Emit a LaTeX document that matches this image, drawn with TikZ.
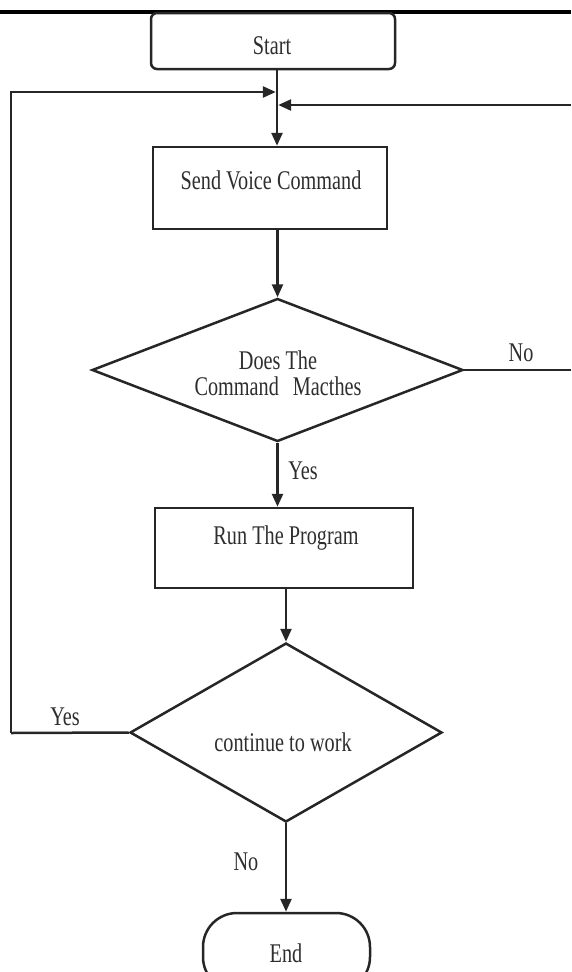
\documentclass[tikz,border=0pt]{standalone}
\usepackage{fontspec}
\newfontfamily\flowfont[FakeStretch=0.75]{Liberation Serif}
\usetikzlibrary{arrows.meta,shapes.geometric}
\begin{document}
\begin{tikzpicture}[x=1pt,y=-1pt,
  line/.style={draw=black!85, line width=2.5pt},
  arr/.style={line, -{Triangle[length=13pt,width=11pt]}},
  box/.style={draw=black!85, line width=2.5pt, rectangle, inner sep=0pt},
  dia/.style={draw=black!85, line width=2.5pt, diamond, inner sep=0pt},
  txt/.style={font=\flowfont\fontsize{27}{28}\selectfont, text=black!82, inner sep=0pt, align=center},
]
\useasboundingbox (0,0) rectangle (571,972);
\draw[line width=4pt, black] (0,12) -- (571,12);

% shapes
\node[box, rounded corners=6pt, minimum width=244pt, minimum height=56pt] (start) at (273,41) {};
\node[txt] (startt) at (272,46) {Start};

\node[box, minimum width=234pt, minimum height=82pt] (send) at (270,188) {};
\node[txt] (sendt) at (271,180) {Send Voice Command};

\node[dia, minimum width=371pt, minimum height=143pt] (d1) at (277.5,370) {};
\node[txt] (d1t) at (278,373) {Does The\\[-2pt]Command\hspace{14pt}Macthes};

\node[box, minimum width=258pt, minimum height=80pt] (run) at (284,548) {};
\node[txt] (runt) at (286,538) {Run The Program};

\node[dia, minimum width=312pt, minimum height=179pt] (d2) at (286,732.5) {};
\node[txt] (d2t) at (283,742) {continue to work};

\node[box, rounded corners=34pt, minimum width=167pt, minimum height=78pt] (end) at (286.5,952) {};
\node[txt] (endt) at (286,953) {End};

% junction points and free ends
\coordinate (jL) at (277,92);
\coordinate (jR) at (277,105);
\coordinate (lc) at (11,733);
\coordinate (rA) at (571,370);
\coordinate (rB) at (571,105);

% connectors
\draw[arr] (start.south -| jL) -- (send.north -| jL);
\draw[line] (d2.west) -- (lc);
\draw[arr, shorten >=1.2pt] (lc) |- (jL);
\draw[line] (d1.east) -- (rA);
\draw[arr, shorten >=1.2pt] (rB) -- (jR);
\draw[arr] (send.south -| d1.north) -- (d1.north);
\draw[arr] (d1.south) -- (d1.south |- run.north);
\draw[arr] (run.south -| d2.north) -- (d2.north);
\draw[arr] (d2.south) -- (end.north -| d2.south);

% labels
\node[txt] (noA) at (521,353) {No};
\node[txt] (yesA) at (303,471) {Yes};
\node[txt] (yesB) at (65,717) {Yes};
\node[txt] (noB) at (246,862) {No};
\end{tikzpicture}
\end{document}
